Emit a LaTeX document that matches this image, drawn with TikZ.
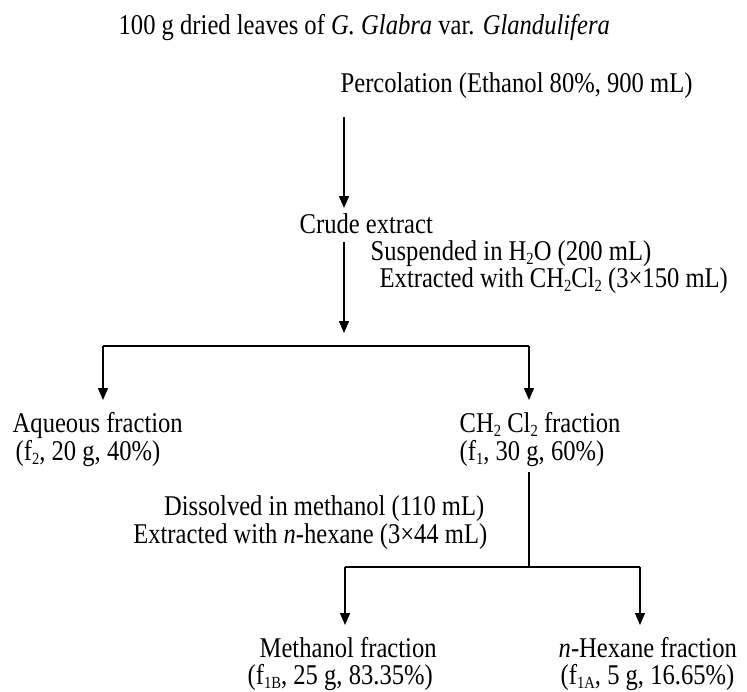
\documentclass[tikz,border=0pt]{standalone}
\usepackage{fontspec}
\setmainfont{Liberation Serif}[FakeStretch=0.86]
\usetikzlibrary{arrows.meta}
\newcommand{\lsub}[1]{\raisebox{-0.35ex}{\fontsize{17}{17}\selectfont #1}}

\begin{document}
\begin{tikzpicture}[x=1pt,y=-1pt,>={Triangle[length=12pt,width=10pt]},line width=1.4pt,
    lbl/.style={inner sep=0pt,anchor=base west,font=\fontsize{28.6}{32}\selectfont},
    lblr/.style={lbl,anchor=base east}]
    \useasboundingbox (0,0) rectangle (747,691);

                    \node (title) [lbl] at (118,34) {100 g dried leaves of \textit{G. Glabra} var. \textit{Glandulifera}};
                    \node (perc) [lbl] at (340,92) {Percolation (Ethanol 80\%, 900 mL)};
                    \node (crude) [lbl] at (299,233) {Crude extract};
                    \node (susp) [lbl] at (370,260) {Suspended in H\lsub{2}O (200 mL)};
                    \node (extr) [lbl] at (379,287) {Extracted with CH\lsub{2}Cl\lsub{2} (3×150 mL)};

                    \node (aq) [lbl] at (12,432) {Aqueous fraction};
                    \node (aq2) [lbl] at (15,460) {(f\lsub{2}, 20 g, 40\%)};
                    \node (dcm) [lbl] at (459,432) {CH\lsub{2} Cl\lsub{2} fraction};
                    \node (dcm2) [lbl] at (459,460) {(f\lsub{1}, 30 g, 60\%)};

                    \node (diss) [lblr] at (485,515) {Dissolved in methanol (110 mL)};
                    \node (ext2) [lblr] at (488,543) {Extracted with \textit{n}-hexane (3×44 mL)};

                    \node (meth) [lbl] at (259,657) {Methanol fraction};
                    \node (meth2) [lbl] at (247,684) {(f\lsub{1B}, 25 g, 83.35\%)};
                    \node (hex) [lbl] at (558,657) {\textit{n}-Hexane fraction};
                    \node (hex2) [lbl] at (560,684) {(f\lsub{1A}, 5 g, 16.65\%)};

                    % arrow ends
                    \coordinate (1) at (344,117);
                    \coordinate (2) at (344,208);
                    \coordinate (3) at (344,242);
                    \coordinate (4) at (344,333);
                    \coordinate (5) at (103,346);
                    \coordinate (6) at (529,346);
                    \coordinate (7) at (103,400);
                    \coordinate (8) at (529,400);
                    \coordinate (9) at (529,472);
                    \coordinate (10) at (529,567);
                    \coordinate (11) at (345,567);
                    \coordinate (12) at (640,567);
                    \coordinate (13) at (345,625);
                    \coordinate (14) at (640,625);

                    \path[->]
                    (1) edge (2)
                    (3) edge (4)
                    (5) edge (7)
                    (6) edge (8)
                    (11) edge (13)
                    (12) edge (14)
                    ;
                    \draw (5) -- (6);
                    \draw (9) -- (10);
                    \draw (11) -- (12);
                \end{tikzpicture}
\end{document}
